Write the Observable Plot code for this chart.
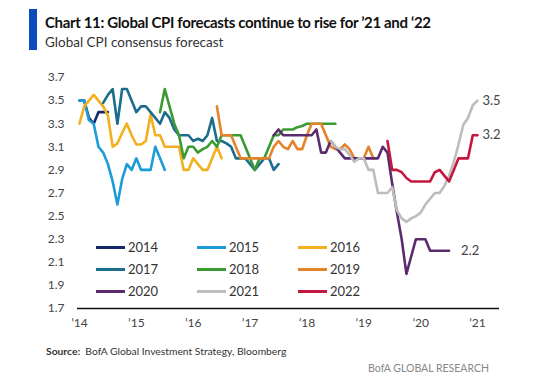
<!DOCTYPE html>
<html>
<head>
<meta charset="utf-8">
<script src="https://cdn.jsdelivr.net/npm/d3@7"></script>
<script src="https://cdn.jsdelivr.net/npm/@observablehq/plot@0.6"></script>
<style>
  html, body { margin: 0; padding: 0; background: #fff; }
  body { width: 541px; height: 383px; position: relative; overflow: hidden; font-family: Lato, "Open Sans", sans-serif; }
  #bar { position: absolute; left: 29px; top: 9px; width: 8px; height: 41px; background: #0a4cbd; }
  #title { position: absolute; left: 45px; top: 12px; font-size: 15px; font-weight: bold; color: #111; white-space: nowrap; line-height: 20px; letter-spacing: -0.35px; }
  #subtitle { position: absolute; left: 45px; top: 32px; font-size: 13.5px; color: #333; white-space: nowrap; line-height: 20px; }
  #chart { position: absolute; left: 0; top: 60px; }
  #legend { position: absolute; left: 96px; top: 236px; display: grid; grid-template-columns: 101px 101px 101px; grid-auto-rows: 22.2px; }
  .item { display: flex; align-items: center; font-size: 13px; color: #333; }
  .sw { width: 29px; height: 3px; margin-right: 3px; }
  #source { position: absolute; left: 46px; top: 345px; font-size: 10.3px; color: #333; white-space: nowrap; }
  #brand { position: absolute; right: 52px; top: 362px; font-size: 10.5px; color: #888; white-space: nowrap; }
</style>
</head>
<body>
<div id="bar"></div>
<div id="title">Chart 11: Global CPI forecasts continue to rise for ’21 and ‘22</div>
<div id="subtitle">Global CPI consensus forecast</div>
<div id="chart"></div>
<div id="legend"></div>
<div id="source"><b>Source:</b>&nbsp; BofA Global Investment Strategy, Bloomberg</div>
<div id="brand">BofA GLOBAL RESEARCH</div>
<script>
// Series (forecast year), colours, and first month of each series (months after Jan 2014)
const seriesNames = ["2014", "2015", "2016", "2017", "2018", "2019", "2020", "2021", "2022"];
const seriesColors = ["#13296b", "#1b9bd8", "#f2b01e", "#1c6d8c", "#3c9a32", "#e5832a", "#5a2c6e", "#bdbdbd", "#c3173f"];
const startMonth = [0, 0, 0, 5, 17, 29, 41, 53, 65];

// Monthly consensus forecasts (%)
const cpi2014 = [3.5, 3.5, 3.35, 3.3, 3.4, 3.4, 3.4];
const cpi2015 = [3.5, 3.5, 3.33, 3.3, 3.1, 3.05, 2.95, 2.8, 2.6, 2.82, 2.95, 2.9, 3.0, 2.9, 2.9, 2.9, 3.1, 3.0, 2.9];
const cpi2016 = [3.3, 3.45, 3.5, 3.55, 3.5, 3.45, 3.37, 3.1, 3.13, 3.22, 3.3, 3.2, 3.12, 3.12, 3.15, 3.38, 3.2, 3.2, 3.1, 3.1, 3.1, 3.1, 2.9, 2.9, 3.0, 2.95, 2.9, 2.9, 3.0, 3.1, 3.0];
const cpi2017 = [3.48, 3.55, 3.6, 3.3, 3.6, 3.6, 3.5, 3.4, 3.45, 3.45, 3.4, 3.35, 3.3, 3.4, 3.35, 3.25, 3.2, 3.2, 3.2, 3.15, 3.17, 3.15, 3.2, 3.35, 3.15, 3.15, 3.13, 3.1, 3.0, 3.0, 3.0, 2.95, 2.9, 2.95, 3.0, 3.0, 2.9, 2.95];
const cpi2018 = [3.4, 3.6, 3.45, 3.3, 3.2, 3.0, 3.1, 3.1, 3.05, 3.08, 3.1, 3.15, 3.1, 3.2, 3.2, 3.2, 3.2, 3.2, 3.1, 3.0, 2.9, 3.0, 3.0, 3.1, 3.2, 3.2, 3.25, 3.25, 3.25, 3.27, 3.28, 3.3, 3.3, 3.3, 3.3, 3.3, 3.3, 3.3];
const cpi2019 = [3.45, 3.2, 3.2, 3.2, 3.1, 3.0, 3.0, 3.0, 3.0, 3.0, 3.0, 3.0, 3.1, 3.15, 3.1, 3.08, 3.15, 3.08, 3.08, 3.2, 3.3, 3.3, 3.3, 3.2, 3.1, 3.08, 3.08, 3.12, 3.08, 3.0, 3.0, 3.0, 3.1, 3.0];
const cpi2020 = [3.2, 3.25, 3.2, 3.2, 3.2, 3.2, 3.2, 3.2, 3.2, 3.25, 3.05, 3.05, 3.15, 3.1, 3.05, 3.0, 3.0, 3.0, 3.0, 3.0, 3.0, 3.0, 3.0, 3.1, 3.05, 2.78, 2.53, 2.3, 2.0, 2.15, 2.3, 2.3, 2.3, 2.2, 2.2, 2.2, 2.2, 2.2];
const cpi2021 = [3.15, 3.1, 3.08, 3.08, 3.03, 2.97, 3.0, 3.0, 2.9, 2.9, 2.7, 2.7, 2.7, 2.75, 2.55, 2.48, 2.45, 2.48, 2.5, 2.53, 2.6, 2.65, 2.7, 2.7, 2.76, 2.85, 2.97, 3.12, 3.29, 3.35, 3.46, 3.5];
const cpi2022 = [3.15, 2.9, 2.9, 2.88, 2.83, 2.8, 2.8, 2.8, 2.8, 2.8, 2.88, 2.9, 2.85, 2.8, 2.9, 3.0, 3.0, 3.0, 3.2, 3.2];

const yTicks = [1.7, 1.9, 2.1, 2.3, 2.5, 2.7, 2.9, 3.1, 3.3, 3.5, 3.7];
const xTicks = [2014, 2015, 2016, 2017, 2018, 2019, 2020, 2021];
const xTickLabels = ["’14", "’15", "’16", "’17", "’18", "’19", "’20", "’21"];

const allValues = [cpi2014, cpi2015, cpi2016, cpi2017, cpi2018, cpi2019, cpi2020, cpi2021, cpi2022];
const data = [];
allValues.forEach((vals, s) => {
  vals.forEach((v, i) => {
    data.push({series: seriesNames[s], t: 2014 + (startMonth[s] + i) / 12, v});
  });
});

const chart = Plot.plot({
  width: 541,
  height: 275,
  marginLeft: 77,
  marginRight: 42,
  marginTop: 17,
  marginBottom: 27,
  style: {fontFamily: "Lato, 'Open Sans', sans-serif", fontSize: "12px", color: "#444", background: "transparent"},
  x: {domain: [2013.965, 2021.387], ticks: xTicks, tickFormat: d => xTickLabels[xTicks.indexOf(d)], tickSize: 0, tickPadding: 10, label: null},
  y: {domain: [1.7, 3.7], ticks: yTicks, tickFormat: d => d.toFixed(1), tickSize: 0, tickPadding: 13, label: null},
  color: {domain: seriesNames, range: seriesColors},
  marks: [
    Plot.axisX({ticks: xTicks, tickFormat: d => xTickLabels[xTicks.indexOf(d)], tickSize: 0, tickPadding: 10, fontSize: 12, label: null}),
    Plot.axisY({ticks: yTicks, tickFormat: d => d.toFixed(1), tickSize: 0, tickPadding: 13, fontSize: 12, label: null}),
    Plot.ruleY([1.7], {stroke: "#111", strokeWidth: 1.5}),
    Plot.line(data, {x: "t", y: "v", z: "series", stroke: "series", strokeWidth: 2.6, curve: "linear"}),
    Plot.text(data, Plot.selectLast({x: "t", y: "v", z: "series", filter: d => d.series === "2021" || d.series === "2022", text: d => d.v.toFixed(1), textAnchor: "start", dx: 5, fill: "#444", fontSize: 13})),
    Plot.text(data, Plot.selectLast({x: "t", y: "v", z: "series", filter: d => d.series === "2020", text: d => d.v.toFixed(1), textAnchor: "start", dx: 12, fill: "#444", fontSize: 13}))
  ]
});
document.getElementById("chart").appendChild(chart);

// Legend (3 x 3 grid, row-major)
const legend = document.getElementById("legend");
seriesNames.forEach((name, i) => {
  const item = document.createElement("div");
  item.className = "item";
  const sw = document.createElement("span");
  sw.className = "sw";
  sw.style.background = seriesColors[i];
  item.appendChild(sw);
  item.appendChild(document.createTextNode(name));
  legend.appendChild(item);
});
</script>
</body>
</html>
